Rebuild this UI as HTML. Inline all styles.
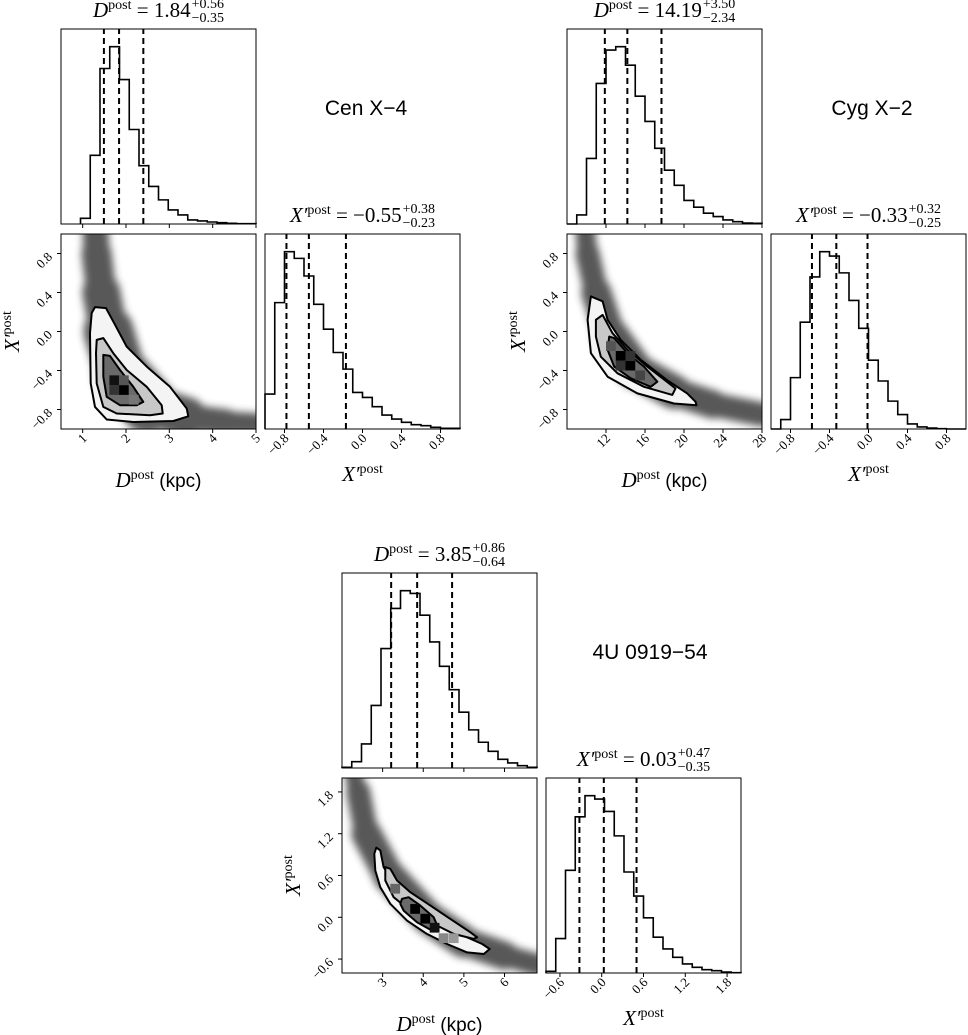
<!DOCTYPE html>
<html><head><meta charset="utf-8">
<style>
html,body{margin:0;padding:0;background:#fff;}
svg{display:block;}
</style></head>
<body>
<svg id="fig" width="968" height="1035" viewBox="0 0 968 1035" xmlns="http://www.w3.org/2000/svg">
<defs>
<filter id="blur" x="-30%" y="-30%" width="160%" height="160%"><feGaussianBlur stdDeviation="4"/></filter>
</defs>
</svg>
<script>
// ---------- Cen X-4 data ----------
const cenDLo = 0.95, cenDWidth = 0.225;
const cenDCounts = [17,205,464,529,431,282,174,112,72,42,27,12,9,6,4,2,1,1];
const cenXLo = -1.0, cenXWidth = 0.1;
const cenXCounts = [105,380,533,513,460,375,300,230,180,110,95,67,42,30,20,13,10,5,2,2];
const cenDQuant = [1.49,1.84,2.40];
const cenXQuant = [-0.78,-0.55,-0.17];
const cenDRange = [0.5,5.0], cenXRange = [-1.0,1.0];
const cenDTicks = [1,2,3,4,5];
const cenDTickLabels = ["1","2","3","4","5"];
const cenXTicks = [-0.8,-0.4,0.0,0.4,0.8];
const cenXTickLabels = ["\u22120.8","\u22120.4","0.0","0.4","0.8"];
const cenOuterD = [1.285,1.538,1.746,2.016,2.478,3.016,3.401,3.438,3.092,2.169,1.555,1.285,1.185,1.169,1.208];
const cenOuterX = [0.25,0.24,0.07,-0.155,-0.36,-0.567,-0.79,-0.87,-0.918,-0.928,-0.903,-0.773,-0.532,-0.017,0.19];
const cenMidD = [1.324,1.476,1.707,2.016,2.478,2.824,2.847,2.554,1.785,1.476,1.324,1.308];
const cenMidX = [-0.086,-0.068,-0.223,-0.395,-0.567,-0.756,-0.841,-0.859,-0.841,-0.773,-0.532,-0.223];
const cenInD = [1.476,1.631,1.862,2.169,2.4,2.247,1.862,1.555,1.476];
const cenInX = [-0.24,-0.25,-0.395,-0.567,-0.722,-0.756,-0.756,-0.670,-0.464];
const cenRidgeD = [1.3,1.32,1.43,1.6,1.9,2.5,3.4,4.3,5.0];
const cenRidgeX = [1.0,0.8,0.4,0.0,-0.45,-0.75,-0.88,-0.93,-0.95];
const cenCellD = [1.73,1.95,1.73,1.95,2.18];
const cenCellX = [-0.5,-0.6,-0.6,-0.5,-0.7];
const cenCellShade = ["#111","#000","#333","#555","#777"];

// ---------- Cyg X-2 data ----------
const cygDLo = 8, cygDWidth = 1.0;
const cygDCounts = [0,27,195,418,517,527,472,380,305,225,160,115,70,50,32,22,12,7,3,2];
const cygXLo = -1.0, cygXWidth = 0.1;
const cygXCounts = [0,28,153,318,453,528,515,465,383,300,205,143,83,43,15,6,3,1,0,0];
const cygDQuant = [11.88,14.19,17.69];
const cygXQuant = [-0.58,-0.33,-0.01];
const cygDRange = [8,28], cygXRange = [-1.0,1.0];
const cygDTicks = [12,16,20,24,28];
const cygDTickLabels = ["12","16","20","24","28"];
const cygXTicks = [-0.8,-0.4,0.0,0.4,0.8];
const cygXTickLabels = ["\u22120.8","\u22120.4","0.0","0.4","0.8"];
const cygOuterD = [10.45,11.65,12.16,13.52,15.56,18.29,20.33,21.18,21.28,18.97,15.22,12.16,10.45,10.11];
const cygOuterX = [0.36,0.31,0.12,-0.086,-0.29,-0.50,-0.635,-0.72,-0.756,-0.738,-0.635,-0.464,-0.223,0.12];
const cygMidD = [10.96,11.65,12.67,14.2,16.24,19.13,18.8,15.9,13.18,11.47,10.96];
const cygMidX = [0.12,0.17,-0.017,-0.189,-0.36,-0.584,-0.65,-0.567,-0.429,-0.258,-0.052];
const cygInD = [12.33,12.84,14.2,15.9,17.26,16.58,14.54,12.84,12.16];
const cygInX = [-0.052,-0.068,-0.223,-0.36,-0.515,-0.567,-0.48,-0.36,-0.189];
const cygRidgeD = [9.9,10.1,11.0,12.5,15.0,19.0,23.0,28.0];
const cygRidgeX = [1.0,0.8,0.4,-0.05,-0.4,-0.62,-0.75,-0.85];
const cygCellD = [13.5,14.5,13.5,14.5,15.5,12.5];
const cygCellX = [-0.25,-0.35,-0.35,-0.25,-0.45,-0.15];
const cygCellShade = ["#000","#000","#333","#333","#444","#555"];

// ---------- 4U 0919-54 data ----------
const fuDLo = 2.0, fuDWidth = 0.24;
const fuDCounts = [2,19,72,187,357,477,530,522,457,377,304,234,167,114,77,50,26,15,7,2];
const fuXLo = -0.8, fuXWidth = 0.14;
const fuXCounts = [5,103,307,467,530,520,483,410,302,230,165,107,72,47,27,17,10,7,3,1];
const fuDQuant = [3.21,3.85,4.71];
const fuXQuant = [-0.32,0.03,0.50];
const fuDRange = [2.0,6.8], fuXRange = [-0.8,2.0];
const fuDTicks = [3,4,5,6];
const fuDTickLabels = ["3","4","5","6"];
const fuXTicks = [-0.6,0.0,0.6,1.2,1.8];
const fuXTickLabels = ["\u22120.6","0.0","0.6","1.2","1.8"];
const fuOuterD = [2.845,2.943,3.025,3.23,3.6,4.09,4.586,5.08,5.45,5.635,5.49,5.08,4.586,4.09,3.6,3.19,2.943,2.82,2.796];
const fuOuterX = [1.0,0.96,0.72,0.528,0.337,0.12,-0.095,-0.288,-0.383,-0.455,-0.527,-0.504,-0.383,-0.239,-0.047,0.193,0.432,0.672,0.912];
const fuMidD = [3.066,3.19,3.355,3.68,4.175,4.667,5.16,5.325,5.24,4.75,4.256,3.68,3.27,3.066];
const fuMidX = [0.72,0.696,0.528,0.36,0.168,-0.023,-0.216,-0.288,-0.311,-0.239,-0.095,0.096,0.288,0.528];
const fuInD = [3.478,3.64,3.929,4.256,4.38,4.217,3.847,3.517,3.436];
const fuInX = [0.265,0.288,0.168,0.0,-0.167,-0.191,-0.072,0.096,0.193];
const fuRidgeD = [2.3,2.4,2.6,3.15,4.1,5.0,6.0,6.8];
const fuRidgeX = [2.0,1.8,1.2,0.6,0.0,-0.35,-0.55,-0.68];
const fuCellD = [3.8,4.05,4.28,3.31,4.5,4.75];
const fuCellX = [0.12,-0.02,-0.15,0.41,-0.3,-0.3];
const fuCellShade = ["#000","#000","#111","#666","#888","#999"];

const NS = "http://www.w3.org/2000/svg";
const svg = document.getElementById('fig');
const SERIF = '"Liberation Serif", "DejaVu Serif", serif';
const SANS = '"Liberation Sans", "DejaVu Sans", sans-serif';

function mk(tag, attrs, parent){
  const e = document.createElementNS(NS, tag);
  for (const k in attrs) e.setAttribute(k, attrs[k]);
  (parent||svg).appendChild(e);
  return e;
}

function lin(d0,d1,p0,p1){ return v => p0 + (v-d0)/(d1-d0)*(p1-p0); }

function mathTitle(parent, cx, y, sym, val, up, dn, nameStr){
  const g = mk('g', {}, parent);
  
  
  const t = mk('text', {x:0, y:y, 'font-family':SERIF, 'font-size':21, fill:'#000'}, g);
  const a = mk('tspan', {'font-style':'italic'}, t); a.textContent = sym;
  const b = mk('tspan', {'font-size':14, dy:-8}, t); b.textContent = 'post';
  const c = mk('tspan', {dy:8}, t); c.textContent = ' = ' + val;
  const w = t.getComputedTextLength();
  const s1 = mk('text', {x:w+1, y:y-9, 'font-family':SERIF, 'font-size':14}, g); s1.textContent = up;
  const s2 = mk('text', {x:w+1, y:y+5, 'font-family':SERIF, 'font-size':14}, g); s2.textContent = dn;
  const tw = w + 1 + Math.max(s1.getComputedTextLength(), s2.getComputedTextLength());
  g.setAttribute('transform', 'translate(' + (cx - tw/2) + ',0)');
}

function axisLabel(parent, cx, cy, sym, unit, rotate, nameStr){
  const t = mk('text', {x:cx, y:cy, 'font-family':SERIF, 'font-size':21, 'text-anchor':'middle'}, parent);
  
  
  if (rotate) t.setAttribute('transform', 'rotate(-90 ' + cx + ' ' + cy + ')');
  const a = mk('tspan', {'font-style':'italic'}, t); a.textContent = sym;
  const b = mk('tspan', {'font-size':14, dy:-8}, t); b.textContent = 'post';
  if (unit){
    const c = mk('tspan', {dy:8, 'font-family':SANS, 'font-size':19}, t); c.textContent = ' ' + unit;
  }
}

function histogram(g, lo, width, counts, sx, baseY, topY, quant, nameStr){
  const maxC = Math.max(...counts);
  const sy = lin(0, maxC*1.1, baseY, topY);
  let d = 'M' + sx(lo) + ',' + baseY;
  counts.forEach((c,i) => {
    d += ' L' + sx(lo + i*width) + ',' + sy(c) + ' L' + sx(lo + (i+1)*width) + ',' + sy(c);
  });
  d += ' L' + sx(lo + counts.length*width) + ',' + baseY;
  const p = mk('path', {d:d, fill:'none', stroke:'#000', 'stroke-width':1.6}, g);
  
  
  quant.forEach((q,i) => {
    const l = mk('line', {x1:sx(q), x2:sx(q), y1:baseY, y2:topY, stroke:'#000', 'stroke-width':2, 'stroke-dasharray':'6,4'}, g);
    
    
  });
}

function frame(g, x, y, w, h, nameStr){
  const r = mk('rect', {x:x, y:y, width:w, height:h, fill:'none', stroke:'#000', 'stroke-width':1}, g);
  
  
}

function xTicks(g, ticks, labels, sx, y, withLabels, nameStr){
  ticks.forEach((t,i) => {
    const x = sx(t);
    const l = mk('line', {x1:x, x2:x, y1:y, y2:y+4, stroke:'#000', 'stroke-width':1}, g);
    
    
    if (withLabels){
      const tx = x + 5, ty = y + 10;
      const tl = mk('text', {x:tx, y:ty, 'font-family':SERIF, 'font-size':13, 'text-anchor':'end', transform:'rotate(-45 ' + tx + ' ' + ty + ')'}, g);
      tl.textContent = labels[i];
      
      
    }
  });
}

function yTicks(g, ticks, labels, sy, x, nameStr){
  ticks.forEach((t,i) => {
    const y = sy(t);
    const l = mk('line', {x1:x-4, x2:x, y1:y, y2:y, stroke:'#000', 'stroke-width':1}, g);
    
    
    const tx = x - 8, ty = y + 4;
    const tl = mk('text', {x:tx, y:ty, 'font-family':SERIF, 'font-size':13, 'text-anchor':'end', transform:'rotate(-45 ' + tx + ' ' + ty + ')'}, g);
    tl.textContent = labels[i];
    
    
  });
}

function poly(g, D, X, sx, sy, fill, sw, nameStr){
  let d = '';
  D.forEach((v,i) => { d += (i ? ' L' : 'M') + sx(v).toFixed(1) + ',' + sy(X[i]).toFixed(1); });
  d += ' Z';
  const p = mk('path', {d:d, fill:fill, stroke:'#000', 'stroke-width':sw, 'stroke-linejoin':'round'}, g);
  
  
}

function corner(cfg){
  const g = mk('g', {});
  
  
  const W = 195, H = 195;
  const ox = cfg.ox, oy = cfg.oy;
  const sTop = oy + 205, rx = ox + 204;
  const sxD = lin(cfg.dRange[0], cfg.dRange[1], ox, ox + W);
  const syX = lin(cfg.xRange[0], cfg.xRange[1], sTop + H, sTop);
  const sxX = lin(cfg.xRange[0], cfg.xRange[1], rx, rx + W);

  const gt = mk('g', {}, g);
  
  
  const clipId = cfg.name + '-clip';
  const cp = mk('clipPath', {id:clipId}, g);
  mk('rect', {x:ox, y:sTop, width:W, height:H}, cp);
  histogram(gt, cfg.dLo, cfg.dW, cfg.dCounts, sxD, oy + H, oy, cfg.dQ, cfg.name + '-distance');
  frame(gt, ox, oy, W, H, cfg.name + '-distance-histogram-frame');
  xTicks(gt, cfg.dTicks, cfg.dTickLabels, sxD, oy + H, false, cfg.name + '-distance-hist-x');
  mathTitle(gt, ox + W/2, oy - 12, 'D', cfg.dTitle[0], cfg.dTitle[1], cfg.dTitle[2], cfg.name + '-distance-title');

  const gs = mk('g', {}, g);
  
  
  const gc = mk('g', {'clip-path':'url(#' + clipId + ')'}, gs);
  const cloud = mk('g', {filter:'url(#blur)', opacity:0.85}, gc);
  
  
  for (let i = 0; i < cfg.ridgeD.length - 1; i++){
    const seg = mk('line', {x1:sxD(cfg.ridgeD[i]), y1:syX(cfg.ridgeX[i]), x2:sxD(cfg.ridgeD[i+1]), y2:syX(cfg.ridgeX[i+1]),
      stroke:'#3a3a3a', 'stroke-width':cfg.ridgeW[i], 'stroke-linecap':'round'}, cloud);
    
    
  }
  poly(gc, cfg.outD, cfg.outX, sxD, syX, '#f4f4f4', 2, cfg.name + '-contour-outer');
  poly(gc, cfg.midD, cfg.midX, sxD, syX, '#c8c8c8', 2, cfg.name + '-contour-middle');
  poly(gc, cfg.inD, cfg.inX, sxD, syX, '#6a6a6a', 2, cfg.name + '-contour-inner');
  cfg.cellD.forEach((d,i) => {
    const x0 = sxD(d - cfg.dW/2), x1 = sxD(d + cfg.dW/2);
    const y0 = syX(cfg.cellX[i] + cfg.xW/2), y1 = syX(cfg.cellX[i] - cfg.xW/2);
    const r = mk('rect', {x:x0, y:y0, width:x1-x0, height:y1-y0, fill:cfg.cellS[i]}, gc);
    
    
  });
  frame(gs, ox, sTop, W, H, cfg.name + '-joint-frame');
  xTicks(gs, cfg.dTicks, cfg.dTickLabels, sxD, sTop + H, true, cfg.name + '-distance-x');
  yTicks(gs, cfg.xTicks, cfg.xTickLabels, syX, ox, cfg.name + '-x-prime-y');
  axisLabel(gs, ox + W/2, sTop + H + 58, 'D', '(kpc)', false, cfg.name + '-x-axis-title');
  axisLabel(gs, ox - 42, sTop + H/2, 'X\u2032', null, true, cfg.name + '-y-axis-title');

  const gr = mk('g', {}, g);
  
  
  histogram(gr, cfg.xLo, cfg.xW, cfg.xCounts, sxX, sTop + H, sTop, cfg.xQ, cfg.name + '-x-prime');
  frame(gr, rx, sTop, W, H, cfg.name + '-x-prime-histogram-frame');
  xTicks(gr, cfg.xTicks, cfg.xTickLabels, sxX, sTop + H, true, cfg.name + '-x-prime-x');
  axisLabel(gr, rx + W/2, sTop + H + 52, 'X\u2032', null, false, cfg.name + '-x-prime-axis-title');
  mathTitle(gr, rx + W/2, sTop - 12, 'X\u2032', cfg.xTitle[0], cfg.xTitle[1], cfg.xTitle[2], cfg.name + '-x-prime-title');

  const nm = mk('text', {x:cfg.labelX, y:cfg.labelY, 'font-family':SANS, 'font-size':21, 'text-anchor':'middle'}, g);
  nm.textContent = cfg.label;
  
  
}

corner({name:'cen-x-4', ox:61, oy:29, dRange:cenDRange, xRange:cenXRange,
  dLo:cenDLo, dW:cenDWidth, dCounts:cenDCounts, xLo:cenXLo, xW:cenXWidth, xCounts:cenXCounts,
  dQ:cenDQuant, xQ:cenXQuant, dTicks:cenDTicks, dTickLabels:cenDTickLabels, xTicks:cenXTicks, xTickLabels:cenXTickLabels,
  outD:cenOuterD, outX:cenOuterX, midD:cenMidD, midX:cenMidX, inD:cenInD, inX:cenInX,
  ridgeD:cenRidgeD, ridgeX:cenRidgeX, ridgeW:[26,30,38,50,56,40,26,22,20],
  cellD:cenCellD, cellX:cenCellX, cellS:cenCellShade,
  dTitle:['1.84','+0.56','\u22120.35'], xTitle:['\u22120.55','+0.38','\u22120.23'],
  label:'Cen X\u22124', labelX:366, labelY:115});

corner({name:'cyg-x-2', ox:567, oy:29, dRange:cygDRange, xRange:cygXRange,
  dLo:cygDLo, dW:cygDWidth, dCounts:cygDCounts, xLo:cygXLo, xW:cygXWidth, xCounts:cygXCounts,
  dQ:cygDQuant, xQ:cygXQuant, dTicks:cygDTicks, dTickLabels:cygDTickLabels, xTicks:cygXTicks, xTickLabels:cygXTickLabels,
  outD:cygOuterD, outX:cygOuterX, midD:cygMidD, midX:cygMidX, inD:cygInD, inX:cygInX,
  ridgeD:cygRidgeD, ridgeX:cygRidgeX, ridgeW:[20,24,30,36,34,28,24,22],
  cellD:cygCellD, cellX:cygCellX, cellS:cygCellShade,
  dTitle:['14.19','+3.50','\u22122.34'], xTitle:['\u22120.33','+0.32','\u22120.25'],
  label:'Cyg X\u22122', labelX:872, labelY:115});

corner({name:'4u-0919-54', ox:342, oy:573, dRange:fuDRange, xRange:fuXRange,
  dLo:fuDLo, dW:fuDWidth, dCounts:fuDCounts, xLo:fuXLo, xW:fuXWidth, xCounts:fuXCounts,
  dQ:fuDQuant, xQ:fuXQuant, dTicks:fuDTicks, dTickLabels:fuDTickLabels, xTicks:fuXTicks, xTickLabels:fuXTickLabels,
  outD:fuOuterD, outX:fuOuterX, midD:fuMidD, midX:fuMidX, inD:fuInD, inX:fuInX,
  ridgeD:fuRidgeD, ridgeX:fuRidgeX, ridgeW:[18,24,30,32,32,28,22,20],
  cellD:fuCellD, cellX:fuCellX, cellS:fuCellShade,
  dTitle:['3.85','+0.86','\u22120.64'], xTitle:['0.03','+0.47','\u22120.35'],
  label:'4U 0919\u221254', labelX:650, labelY:659});
</script>
</body></html>
